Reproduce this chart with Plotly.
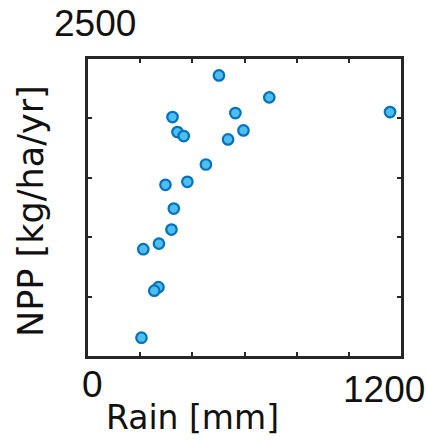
import plotly.graph_objects as go

rain_mm = [502, 695, 1158, 324, 565, 596, 343, 367, 537, 452, 381, 297, 329, 320, 272, 212, 270, 254, 205]
npp = [2362, 2177, 2053, 2011, 2045, 1899, 1885, 1851, 1823, 1612, 1466, 1441, 1241, 1064, 946, 899, 579, 550, 154]

x_range = [0, 1200]
y_range = [0, 2500]
x_tick_vals = [0, 200, 400, 600, 800, 1000, 1200]
y_tick_vals = [0, 500, 1000, 1500, 2000, 2500]
x_label_text = ["0", "1200"]
y_label_text = ["2500"]
x_title = "Rain [mm]"
y_title = "NPP [kg/ha/yr]"

fig = go.Figure()
fig.add_trace(go.Scatter(
    x=rain_mm, y=npp, mode="markers",
    marker=dict(size=10.5, color="#4DBEEE", line=dict(color="#0072BD", width=2.2)),
    showlegend=False,
))

axis_common = dict(
    showline=True, mirror="allticks", linecolor="#262626", linewidth=2.5,
    ticks="inside", ticklen=4, tickwidth=1.5, tickcolor="#262626",
    showticklabels=False, showgrid=False, zeroline=False,
)
fig.update_xaxes(range=x_range, tickvals=x_tick_vals, **axis_common)
fig.update_yaxes(range=y_range, tickvals=y_tick_vals, **axis_common)

tick_font = dict(family="Liberation Sans, Arial", size=37, color="#111")
title_font_x = dict(family="DejaVu Sans", size=33, color="#111")
title_font_y = dict(family="DejaVu Sans", size=35, color="#111")

annotations = [
    dict(x=0.0144, y=-0.0944, xref="paper", yref="paper", text=x_label_text[0], showarrow=False,
         xanchor="center", yanchor="middle", font=tick_font),
    dict(x=0.9458, y=-0.1112, xref="paper", yref="paper", text=x_label_text[1], showarrow=False,
         xanchor="center", yanchor="middle", font=tick_font),
    dict(x=0.0214, y=1.1206, xref="paper", yref="paper", text=y_label_text[0], showarrow=False,
         xanchor="center", yanchor="middle", font=tick_font),
    dict(x=0.335, y=-0.2056, xref="paper", yref="paper", text=x_title, showarrow=False,
         xanchor="center", yanchor="middle", font=title_font_x),
    dict(x=-0.1818, y=0.4887, xref="paper", yref="paper", text=y_title, showarrow=False,
         textangle=-90, xanchor="center", yanchor="middle", font=title_font_y),
]

fig.update_layout(
    width=427, height=441,
    margin=dict(l=88, r=25.5, t=59.3, b=85),
    paper_bgcolor="white", plot_bgcolor="white",
    annotations=annotations,
)

fig.write_html(
    "out.html",
    config={"displayModeBar": False},
    post_script="document.body.style.margin='0';document.body.style.overflow='hidden';",
)
